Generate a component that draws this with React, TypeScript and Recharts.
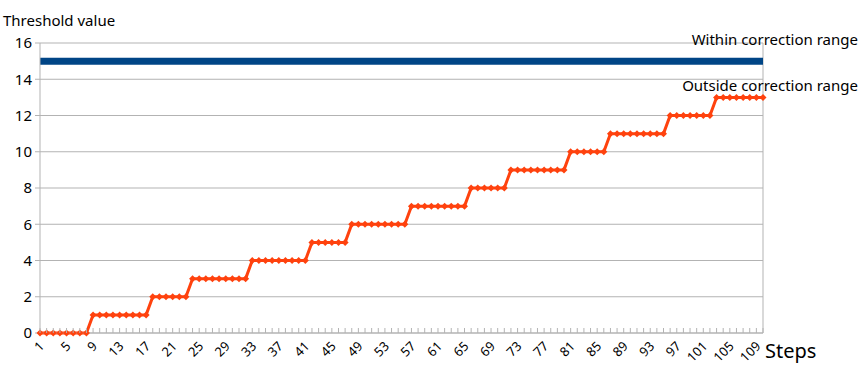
import { LineChart, Line, XAxis, YAxis, CartesianGrid, ReferenceLine, LabelList } from "recharts";

const steps = [
  1, 2, 3, 4, 5, 6, 7, 8, 9, 10, 11, 12, 13, 14, 15, 16, 17, 18, 19, 20,
  21, 22, 23, 24, 25, 26, 27, 28, 29, 30, 31, 32, 33, 34, 35, 36, 37, 38, 39, 40,
  41, 42, 43, 44, 45, 46, 47, 48, 49, 50, 51, 52, 53, 54, 55, 56, 57, 58, 59, 60,
  61, 62, 63, 64, 65, 66, 67, 68, 69, 70, 71, 72, 73, 74, 75, 76, 77, 78, 79, 80,
  81, 82, 83, 84, 85, 86, 87, 88, 89, 90, 91, 92, 93, 94, 95, 96, 97, 98, 99, 100,
  101, 102, 103, 104, 105, 106, 107, 108, 109, 110,
];

const withinRange = [
  15, 15, 15, 15, 15, 15, 15, 15, 15, 15, 15, 15, 15, 15, 15, 15, 15, 15, 15, 15,
  15, 15, 15, 15, 15, 15, 15, 15, 15, 15, 15, 15, 15, 15, 15, 15, 15, 15, 15, 15,
  15, 15, 15, 15, 15, 15, 15, 15, 15, 15, 15, 15, 15, 15, 15, 15, 15, 15, 15, 15,
  15, 15, 15, 15, 15, 15, 15, 15, 15, 15, 15, 15, 15, 15, 15, 15, 15, 15, 15, 15,
  15, 15, 15, 15, 15, 15, 15, 15, 15, 15, 15, 15, 15, 15, 15, 15, 15, 15, 15, 15,
  15, 15, 15, 15, 15, 15, 15, 15, 15, 15,
];

const outsideRange = [
  0, 0, 0, 0, 0, 0, 0, 0,
  1, 1, 1, 1, 1, 1, 1, 1, 1,
  2, 2, 2, 2, 2, 2,
  3, 3, 3, 3, 3, 3, 3, 3, 3,
  4, 4, 4, 4, 4, 4, 4, 4, 4,
  5, 5, 5, 5, 5, 5,
  6, 6, 6, 6, 6, 6, 6, 6, 6,
  7, 7, 7, 7, 7, 7, 7, 7, 7,
  8, 8, 8, 8, 8, 8,
  9, 9, 9, 9, 9, 9, 9, 9, 9,
  10, 10, 10, 10, 10, 10,
  11, 11, 11, 11, 11, 11, 11, 11, 11,
  12, 12, 12, 12, 12, 12, 12,
  13, 13, 13, 13, 13, 13, 13, 13,
];

const yTicks = [0, 2, 4, 6, 8, 10, 12, 14, 16];

const data = steps.map((step, i) => ({
  step,
  within: withinRange[i],
  outside: outsideRange[i],
}));

const FONT = "'Noto Sans', sans-serif";
const GRID = "#b3b3b3";
const BLUE = "#004586";
const ORANGE = "#ff420e";

function StepTick(props: any) {
  const { x, y, payload } = props;
  const v = payload.value as number;
  const showLabel = (v - 1) % 4 === 0;
  return (
    <g>
      <line x1={x} x2={x} y1={y - 5} y2={y} stroke={GRID} />
      {showLabel && (
        <text
          x={x + 1.5}
          y={y + 10.5}
          textAnchor="end"
          dominantBaseline="central"
          transform={`rotate(-45 ${x + 1.5} ${y + 10.5})`}
          fontSize={13}
          fontFamily={FONT}
          fill="#000"
        >
          {v}
        </text>
      )}
    </g>
  );
}

function Diamond(props: any) {
  const { cx, cy } = props;
  if (cx == null || cy == null) return null;
  const r = 3.5;
  return (
    <polygon
      points={`${cx},${cy - r} ${cx + r},${cy} ${cx},${cy + r} ${cx - r},${cy}`}
      fill={ORANGE}
    />
  );
}

function endLabel(text: string, dy: number) {
  return (props: any) => {
    const { x, y, index } = props;
    if (index !== steps.length - 1) return null;
    return (
      <text x={x + 95} y={y + dy} textAnchor="end" fontSize={15} fontFamily={FONT} fill="#000">
        {text}
      </text>
    );
  };
}

export default function App() {
  return (
    <div style={{ position: "absolute", left: 0, top: 0, width: 861, height: 370, background: "#fff", fontFamily: FONT }}>
      <LineChart width={861} height={370} data={data} margin={{ top: 43, right: 98, bottom: 0, left: 0 }}>
        <CartesianGrid vertical={false} stroke={GRID} />
        <XAxis
          dataKey="step"
          interval={0}
          height={37}
          tickSize={0}
          tickMargin={0}
          tickLine={false}
          axisLine={{ stroke: GRID }}
          tick={<StepTick />}
        />
        <YAxis
          width={40}
          domain={[0, 16]}
          ticks={yTicks}
          tickSize={5}
          tickMargin={3}
          axisLine={{ stroke: GRID }}
          tickLine={{ stroke: GRID }}
          tick={{ fontSize: 15, fill: "#000", fontFamily: FONT }}
        />
        <ReferenceLine x={110} stroke={GRID} />
        <Line
          dataKey="within"
          stroke={BLUE}
          strokeWidth={7}
          dot={false}
          isAnimationActive={false}
        >
          <LabelList dataKey="within" content={endLabel("Within correction range", -16)} />
        </Line>
        <Line
          dataKey="outside"
          stroke={ORANGE}
          strokeWidth={3}
          dot={<Diamond />}
          isAnimationActive={false}
        >
          <LabelList dataKey="outside" content={endLabel("Outside correction range", -6)} />
        </Line>
      </LineChart>
      <div style={{ position: "absolute", left: 3, top: 10, fontSize: 15, color: "#000", whiteSpace: "nowrap" }}>
        Threshold value
      </div>
      <div style={{ position: "absolute", left: 765, top: 337, fontSize: 20, color: "#000", whiteSpace: "nowrap" }}>
        Steps
      </div>
    </div>
  );
}
